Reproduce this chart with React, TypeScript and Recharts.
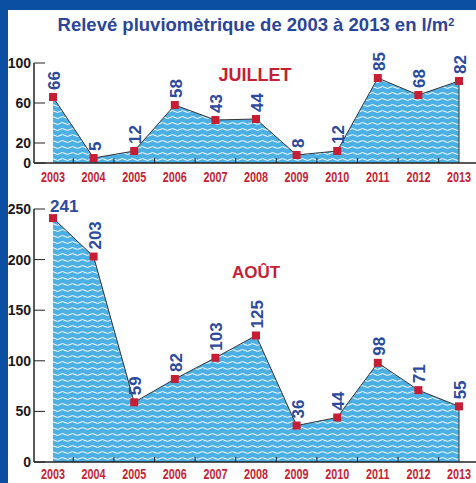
import { Area, AreaChart, LabelList, ReferenceLine, XAxis, YAxis } from "recharts"

const years = [2003, 2004, 2005, 2006, 2007, 2008, 2009, 2010, 2011, 2012, 2013]
const julyRain = [66, 5, 12, 58, 43, 44, 8, 12, 85, 68, 82]
const augustRain = [241, 203, 59, 82, 103, 125, 36, 44, 98, 71, 55]
const julyTicks = [0, 20, 60, 100]
const augustTicks = [0, 50, 100, 150, 200, 250]

const RED = "#c61f35"
const NAVY = "#2c4a9e"
const FONT = "'Liberation Sans', Arial, sans-serif"

type ChartProps = {
  values: number[]
  yTicks: number[]
  height: number
  top: number
  bottom: number
  patternId: string
  labelMargin: number
  flatFirst?: boolean
}

function RainChart({ values, yTicks, height, top, bottom, patternId, labelMargin, flatFirst }: ChartProps) {
  const data = years.map((year, i) => ({ year, value: values[i] }))
  // year labels plus the small tick marks half-way between years
  const xTicks = years.flatMap((y, i) => (i === 0 ? [y] : [y - 0.5, y]))
  const lastYear = years[years.length - 1]
  const lastValue = values[values.length - 1]
  const yMax = yTicks[yTicks.length - 1]

  const renderTick = (props: any) => {
    const { x, y, payload } = props
    const v = payload.value
    if (!Number.isInteger(v)) {
      const axisY = y - labelMargin
      return <line x1={x} x2={x} y1={axisY} y2={axisY - 5} stroke="#222" strokeWidth={1} />
    }
    // condensed look: squeeze the label horizontally like the original
    return (
      <text
        transform={`translate(${x} ${y}) scale(0.72 1)`}
        dy="0.71em"
        textAnchor="middle"
        fill={RED}
        fontSize={15}
        fontWeight="bold"
        fontFamily={FONT}
      >
        {v}
      </text>
    )
  }

  const renderLabel = (props: any) => {
    const { x, y, value, index } = props
    if (flatFirst && index === 0) {
      return (
        <text x={x - 3} y={y - 6} fill={NAVY} fontSize={17} fontWeight="bold" fontFamily={FONT}>
          {value}
        </text>
      )
    }
    const tx = x + 7
    const ty = y - 7
    return (
      <text
        x={tx}
        y={ty}
        transform={`rotate(-90 ${tx} ${ty})`}
        fill={NAVY}
        fontSize={17}
        fontWeight="bold"
        fontFamily={FONT}
      >
        {value}
      </text>
    )
  }

  return (
    <AreaChart width={476} height={height} data={data} margin={{ top, right: 0, bottom: 0, left: 0 }}>
      <defs>
        <pattern id={patternId} patternUnits="userSpaceOnUse" width="10" height="6">
          <rect width="10" height="6" fill="#4cb0e4" />
          <path d="M0 3.5 Q2.5 1.6 5 3.5 T10 3.5" stroke="#ffffff" strokeWidth="1" fill="none" />
        </pattern>
      </defs>
      <XAxis
        dataKey="year"
        type="number"
        domain={[years[0], lastYear]}
        padding={{ left: 19, right: 17 }}
        ticks={xTicks}
        interval={0}
        height={bottom}
        tickSize={0}
        tickMargin={labelMargin}
        axisLine={{ stroke: "#222", strokeWidth: 1.5 }}
        tickLine={false}
        tick={renderTick}
      />
      <YAxis
        width={34}
        domain={[0, yMax]}
        ticks={yTicks}
        interval={0}
        tickSize={-11}
        tickMargin={14}
        axisLine={{ stroke: "#222", strokeWidth: 1.5 }}
        tickLine={{ stroke: "#222", strokeWidth: 1 }}
        tick={{ fill: "#1a1a1a", fontSize: 14, fontWeight: "bold", fontFamily: FONT }}
      />
      <Area
        type="linear"
        dataKey="value"
        stroke="#333"
        strokeWidth={1}
        fill={`url(#${patternId})`}
        fillOpacity={1}
        isAnimationActive={false}
        dot={(p: any) => <rect key={`d${p.index}`} x={p.cx - 4} y={p.cy - 4} width={8} height={8} fill={RED} />}
        activeDot={false}
      >
        <LabelList dataKey="value" content={renderLabel} />
      </Area>
      <ReferenceLine
        segment={[
          { x: lastYear, y: 0 },
          { x: lastYear, y: lastValue },
        ]}
        stroke="#333"
        strokeWidth={1}
      />
    </AreaChart>
  )
}

export default function App() {
  return (
    <div style={{ position: "absolute", left: 0, top: 0, width: 476, height: 483, background: "#fff", fontFamily: FONT, overflow: "hidden" }}>
      <div style={{ position: "absolute", left: 0, top: 0 }}>
        <RainChart values={julyRain} yTicks={julyTicks} height={185} top={63} bottom={22} patternId="wavesJuly" labelMargin={8} />
      </div>
      <div style={{ position: "absolute", left: 0, top: 185 }}>
        <RainChart
          values={augustRain}
          yTicks={augustTicks}
          height={298}
          top={24}
          bottom={21}
          patternId="wavesAugust"
          labelMargin={6}
          flatFirst
        />
      </div>
      <div style={{ position: "absolute", left: 0, top: 0, width: 476, height: 10, background: "#0b4fa2" }} />
      <div style={{ position: "absolute", left: 0, top: 0, width: 8, height: 483, background: "#0b4fa2" }} />
      <div
        style={{
          position: "absolute",
          left: 0,
          top: 15,
          width: 512,
          textAlign: "center",
          color: "#2b4598",
          fontSize: 18.5,
          fontWeight: "bold",
          lineHeight: "20px",
          whiteSpace: "nowrap",
        }}
      >
        Relevé pluviomètrique de 2003 à 2013 en l/m
        <sup style={{ fontSize: 11, verticalAlign: "top", lineHeight: "14px" }}>2</sup>
      </div>
      <div style={{ position: "absolute", left: 0, top: 65, width: 510, textAlign: "center", color: RED, fontSize: 18, fontWeight: "bold", lineHeight: "20px" }}>
        JUILLET
      </div>
      <div style={{ position: "absolute", left: 0, top: 263, width: 512, textAlign: "center", color: RED, fontSize: 17, fontWeight: "bold", lineHeight: "20px" }}>
        AOÛT
      </div>
    </div>
  )
}
